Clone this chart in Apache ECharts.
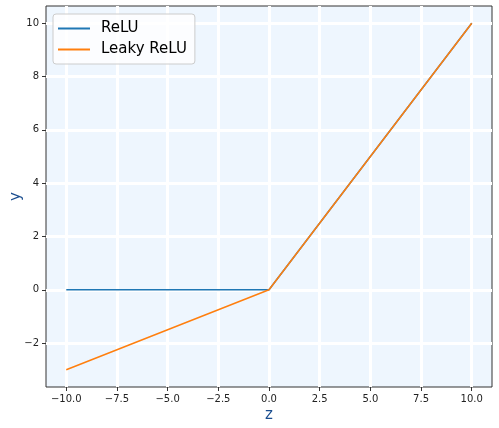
<!DOCTYPE html>
<html>
<head>
<meta charset="utf-8">
<script src="https://cdn.jsdelivr.net/npm/echarts@6/dist/echarts.min.js"></script>
<style>
  html, body { margin: 0; padding: 0; background: #fff; }
  #chart { width: 499px; height: 428px; }
</style>
</head>
<body>
<div id="chart"></div>
<script>
// 数据
const zValues = [-10, 0, 10]
const reluValues = [0, 0, 10]
const leakyValues = [-3, 0, 10]
const xTicks = [-10, -7.5, -5, -2.5, 0, 2.5, 5, 7.5, 10]
const yTicks = [-2, 0, 2, 4, 6, 8, 10]

const minus = s => String(s).replace('-', '\u2212')
const pairs = ys => zValues.map((z, i) => [z, ys[i]])

const chart = echarts.init(document.getElementById('chart'))

const axisCommon = {
  axisLine: { show: false, onZero: false },
  axisTick: { show: true, inside: false, length: 4, lineStyle: { color: '#333', width: 1 } },
  splitLine: { show: true, lineStyle: { color: '#fff', width: 3 } },
  nameMoveOverlap: false,
  nameTextStyle: { color: '#1a4d8f', fontSize: 15, fontFamily: 'DejaVu Sans' }
}

const option = {
  animation: false,
  grid: {
    left: 46, right: 7, top: 6, bottom: 41,
    outerBoundsMode: 'none',
    containLabel: false,
    show: true,
    backgroundColor: '#eef6fe',
    borderColor: '#333',
    borderWidth: 1
  },
  legend: {
    left: 53, top: 14,
    orient: 'vertical',
    itemWidth: 32, itemHeight: 2, itemGap: 6,
    padding: [7, 8, 7, 5],
    backgroundColor: 'rgba(255,255,255,0.8)',
    borderColor: '#ccc', borderWidth: 1, borderRadius: 3,
    icon: 'rect',
    textStyle: { fontSize: 15, color: '#000', fontFamily: 'DejaVu Sans', padding: [0, 0, 0, 6] },
    data: ['ReLU', 'Leaky ReLU']
  },
  xAxis: {
    type: 'value',
    min: -11, max: 11,
    name: 'z', nameLocation: 'middle', nameGap: 21,
    ...axisCommon,
    axisTick: { ...axisCommon.axisTick, customValues: xTicks },
    axisLabel: {
      customValues: xTicks,
      color: '#222', fontSize: 10, fontFamily: 'DejaVu Sans', margin: 7,
      formatter: v => minus(v.toFixed(1))
    }
  },
  yAxis: {
    type: 'value',
    min: -3.65, max: 10.65,
    name: 'y', nameLocation: 'middle', nameGap: 22,
    ...axisCommon,
    axisTick: { ...axisCommon.axisTick, customValues: yTicks },
    axisLabel: {
      customValues: yTicks,
      color: '#222', fontSize: 10, fontFamily: 'DejaVu Sans', margin: 7,
      formatter: v => minus(v)
    }
  },
  series: [
    {
      name: 'ReLU', type: 'line', data: pairs(reluValues),
      symbol: 'none', lineStyle: { color: '#1f77b4', width: 1.5 }, itemStyle: { color: '#1f77b4' }
    },
    {
      name: 'Leaky ReLU', type: 'line', data: pairs(leakyValues),
      symbol: 'none', lineStyle: { color: '#ff7f0e', width: 1.5 }, itemStyle: { color: '#ff7f0e' }
    }
  ]
}

chart.setOption(option)
</script>
</body>
</html>
